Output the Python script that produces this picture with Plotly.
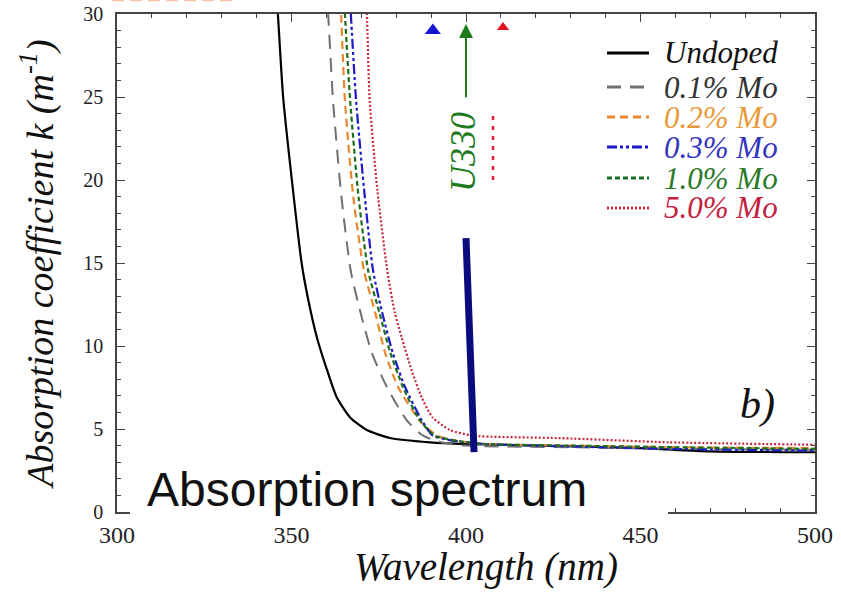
import plotly.graph_objects as go

# ---------------- data ----------------
series_names = ["Undoped", "0.1% Mo", "0.2% Mo", "0.3% Mo", "1.0% Mo", "5.0% Mo"]

wl_undoped = [345.6, 346.1, 347.6, 350.1, 352.9, 354.6, 357.3, 360.2, 363.0, 366.8, 371.6, 378.2, 389.7, 400, 420, 450, 470, 500]
k_undoped = [31.5, 30.0, 25.0, 20.0, 15.0, 13.0, 10.5, 8.55, 6.9, 5.7, 4.94, 4.46, 4.2, 4.1, 4.0, 3.85, 3.65, 3.6]

wl_01 = [360.0, 360.5, 361.9, 364.3, 367.0, 369.8, 373.0, 377.4, 383.1, 387.7, 393, 400, 430, 460, 500]
k_01 = [31.5, 30.0, 24.8, 19.0, 14.5, 12.0, 9.6, 7.5, 5.5, 4.6, 4.2, 4.0, 3.9, 3.8, 3.75]

wl_02 = [363.8, 364.2, 365.3, 367.7, 370.8, 374.0, 376.8, 380.6, 386.8, 391.7, 397, 405, 430, 460, 500]
k_02 = [31.5, 30.0, 24.8, 19.0, 14.5, 12.0, 9.6, 7.5, 5.5, 4.6, 4.3, 4.1, 4.0, 3.9, 3.85]

wl_03 = [366.6, 367.0, 368.5, 371.0, 373.4, 376.0, 379.0, 382.6, 387.4, 390.5, 396, 405, 430, 460, 500]
k_03 = [31.5, 30.0, 24.8, 19.0, 14.5, 12.0, 9.6, 7.5, 5.5, 4.6, 4.3, 4.1, 3.95, 3.8, 3.7]

wl_10 = [364.9, 365.3, 366.8, 369.2, 372.0, 375.2, 378.3, 382.0, 386.8, 391.1, 397, 405, 430, 460, 500]
k_10 = [31.5, 30.0, 24.8, 19.0, 14.5, 12.0, 9.6, 7.5, 5.5, 4.6, 4.3, 4.1, 4.0, 3.9, 3.8]

wl_50 = [371.2, 371.6, 372.4, 374.6, 377.4, 379.6, 381.6, 384.4, 387.3, 390.4, 395.4, 402, 427, 458, 500]
k_50 = [31.5, 30.0, 24.8, 19.4, 14.6, 12.0, 10.5, 8.55, 6.9, 5.7, 4.94, 4.6, 4.45, 4.2, 4.05]

x_ticks = [300, 350, 400, 450, 500]
y_ticks = [0, 5, 10, 15, 20, 25, 30]

marker_wl = [390.5, 410.6]
marker_k = [29.0, 29.1]
marker_colors = ["#1515d0", "#e01020"]

# ---------------- styles ----------------
colors = ["#000000", "#707070", "#e8872e", "#1a1ac8", "#1d6e1d", "#c8243c"]
text_colors = ["#111111", "#333333", "#e89a3a", "#3434c0", "#2a7a2a", "#c42040"]
dashes = ["solid", "14px,9px", "8px,5px", "10px,3px,3px,3px,3px,3px", "5px,3px", "2px,2px"]
widths = [2.2, 2.0, 2.2, 2.2, 2.2, 2.2]

xs = [wl_undoped, wl_01, wl_02, wl_03, wl_10, wl_50]
ys = [k_undoped, k_01, k_02, k_03, k_10, k_50]

SERIF = "Liberation Serif, Times New Roman, serif"
W, H = 841, 592
L, R, T, B = 117, 815, 14, 512


def px(xp):
    return (xp - L) / (R - L)


def py(yp):
    return (B - yp) / (B - T)


fig = go.Figure()
for name, x, y, c, d, w in zip(series_names, xs, ys, colors, dashes, widths):
    fig.add_trace(go.Scatter(x=x, y=y, mode="lines", name=name, showlegend=False,
                             line=dict(color=c, dash=d, width=w, shape="spline", smoothing=0.6)))

fig.add_trace(go.Scatter(x=marker_wl, y=marker_k, mode="markers", showlegend=False,
                         marker=dict(symbol="triangle-up", size=14, color=marker_colors)))

shapes = []
annotations = []

# faint cut-off remnant of a neighbouring panel at the very top
shapes.append(dict(type="line", xref="paper", yref="paper", x0=px(112), x1=px(235), y0=py(0.5), y1=py(0.5),
                   line=dict(color="#f2c4a4", width=1.5, dash="12px,6px"), layer="above"))
# white patch over the top-right area (covers part of red marker)
shapes.append(dict(type="rect", xref="paper", yref="paper", x0=px(494), x1=px(600), y0=py(186), y1=py(30),
                   fillcolor="white", line=dict(width=0), layer="above"))
# small red dotted fragment
shapes.append(dict(type="line", xref="paper", yref="paper", x0=px(493), x1=px(493), y0=py(180), y1=py(110),
                   line=dict(color="#e02030", width=2.5, dash="4px,6px"), layer="above"))
# white patch behind "Absorption spectrum"
shapes.append(dict(type="rect", xref="paper", yref="paper", x0=px(130), x1=px(668), y0=py(525), y1=py(451),
                   fillcolor="white", line=dict(width=0), layer="above"))
# navy marker line
shapes.append(dict(type="line", xref="x", yref="y", x0=400.0, y0=16.5, x1=402.3, y1=3.6,
                   line=dict(color="#0b0b80", width=7), layer="above"))

# manual legend
row_y = [53, 87, 117, 147, 178, 208]
for name, c, tc, d, yy in zip(series_names, colors, text_colors, dashes, row_y):
    shapes.append(dict(type="line", xref="paper", yref="paper", x0=px(607), x1=px(649), y0=py(yy), y1=py(yy),
                       line=dict(color=c, dash=d, width=3), layer="above"))
    annotations.append(dict(xref="paper", yref="paper", x=px(662), y=py(yy), xanchor="left", yanchor="middle",
                            text="<i>" + name + "</i>", showarrow=False,
                            font=dict(family=SERIF, size=31, color=tc)))

# green arrow + U330
annotations.append(dict(xref="x", yref="y", axref="x", ayref="y", x=400, y=29.4, ax=400, ay=24.9,
                        text="", showarrow=True, arrowhead=2, arrowsize=1.4, arrowwidth=2, arrowcolor="#1d7a1d"))
annotations.append(dict(xref="paper", yref="paper", x=px(463), y=py(152), xanchor="center", yanchor="middle",
                        text="<i>U330</i>", textangle=-90,
                        showarrow=False, font=dict(family=SERIF, size=36, color="#1d7a1d")))
# b)
annotations.append(dict(xref="paper", yref="paper", x=px(757), y=py(404), xanchor="center", yanchor="middle",
                        text="<i>b)</i>", showarrow=False,
                        font=dict(family=SERIF, size=42, color="#111111")))
# Absorption spectrum
annotations.append(dict(xref="paper", yref="paper", x=px(367), y=py(489), xanchor="center", yanchor="middle",
                        text="Absorption spectrum", showarrow=False,
                        font=dict(family="Liberation Sans, Arial, sans-serif", size=48, color="#111111")))
# x-axis title
annotations.append(dict(xref="paper", yref="paper", x=px(486), y=py(591), xanchor="center", yanchor="bottom",
                        text="<i>Wavelength (nm)</i>", showarrow=False,
                        font=dict(family=SERIF, size=39, color="#111111")))

axis_common = dict(showline=True, linecolor="#444444", linewidth=1.5, mirror="ticks", ticks="inside",
                   ticklen=8, tickwidth=1.3, tickcolor="#444444", showgrid=False, zeroline=False,
                   automargin=False)

fig.update_layout(
    width=W, height=H,
    margin=dict(l=L, r=W - R, t=T, b=H - B),
    paper_bgcolor="white", plot_bgcolor="white",
    xaxis=dict(range=[300, 500], tickvals=x_ticks, ticktext=[str(v) for v in x_ticks],
               tickfont=dict(family=SERIF, size=24, color="#222222"), ticklabelstandoff=0,
               minor=dict(dtick=10, ticks="inside", ticklen=4, tickcolor="#444444"),
               **axis_common),
    yaxis=dict(range=[0, 30], tickvals=y_ticks, ticktext=[str(v) for v in y_ticks],
               tickfont=dict(family=SERIF, size=20, color="#222222"), ticklabelstandoff=8,
               minor=dict(dtick=1, ticks="inside", ticklen=4, tickcolor="#444444"),
               title=dict(text="<i>Absorption coefficient k (m<sup>-1</sup>)</i>",
                          font=dict(family=SERIF, size=38, color="#111111"), standoff=18),
               **axis_common),
    shapes=shapes,
    annotations=annotations,
)

fig.write_html("out.html")
